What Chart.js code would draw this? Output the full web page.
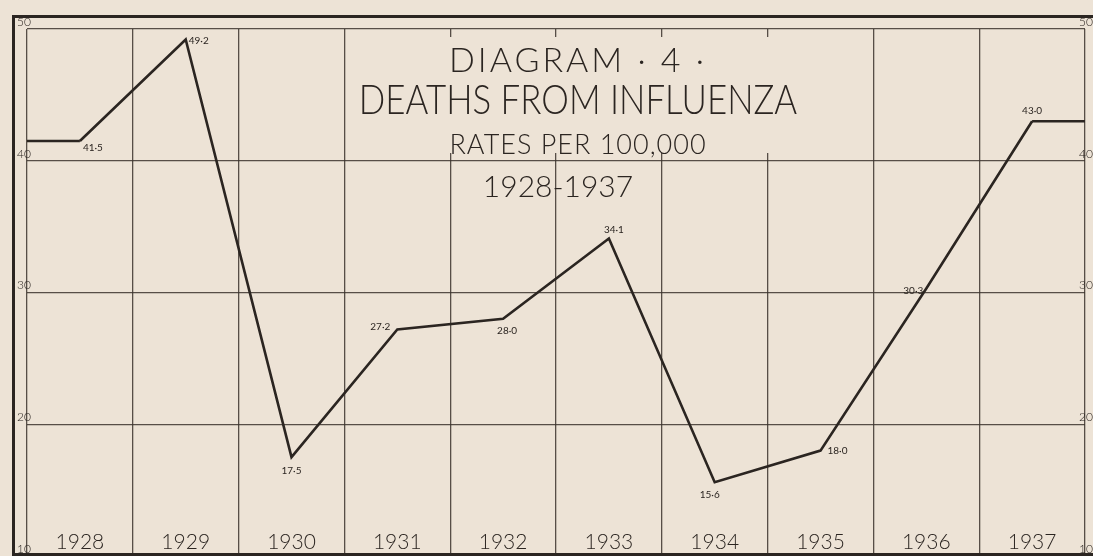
<!DOCTYPE html>
<html>
<head>
<meta charset="utf-8">
<script src="https://cdn.jsdelivr.net/npm/chart.js@4/dist/chart.umd.min.js"></script>
<style>
  html, body { margin: 0; padding: 0; background: #ede3d6; overflow: hidden; }
  #wrap { position: relative; width: 1093px; height: 556px; }
  #frame {
    position: absolute; left: 12px; top: 15px; width: 1100px; height: 535px;
    border: 3px solid #2b2521; border-right: none; pointer-events: none;
  }
  .ttl { position: absolute; left: 200px; width: 756px; text-align: center; color: #2b2521;
         font-family: Lato, "DejaVu Sans", sans-serif; font-weight: 300; white-space: nowrap; }
  #mask { position: absolute; left: 350px; top: 37px; width: 448px; height: 116px; background: #ede3d6; }
</style>
</head>
<body>
<div id="wrap">
  <canvas id="grafico" width="1093" height="556"></canvas>
  <div id="mask"></div>
  <div class="ttl" style="top:38px; font-size:34px; letter-spacing:3px;">DIAGRAM · 4 ·</div>
  <div class="ttl" style="top:73px; font-size:42px; transform:scaleX(0.83);">DEATHS FROM INFLUENZA</div>
  <div class="ttl" style="top:127px; font-size:27px; letter-spacing:1px;">RATES PER 100,000</div>
  <div class="ttl" style="top:167px; left:180px; font-size:30px;">1928-1937</div>
  <div id="frame"></div>
</div>
<script>
// dados do diagrama
const anos = ['1928', '1929', '1930', '1931', '1932', '1933', '1934', '1935', '1936', '1937'];
const taxas = [41.5, 49.2, 17.5, 27.2, 28.0, 34.1, 15.6, 18.0, 30.3, 43.0];
const rotulos = ['41·5', '49·2', '17·5', '27·2', '28·0', '34·1', '15·6', '18·0', '30·3', '43·0'];
const ticksY = [10, 20, 30, 40, 50];

// onde fica cada rotulo em volta do ponto [dx, dy, align]
const posRotulo = [
    [3, 7, 'left'], [3, 1, 'left'], [0, 14, 'center'], [-7, -3, 'right'], [4, 12, 'center'],
    [5, -9, 'center'], [-5, 13, 'center'], [7, 0, 'left'], [-3, 2, 'right'], [0, -10, 'center']
]

const tinta = '#2b2521'
const grade = 'rgba(60,52,46,0.85)'
const fonte = 'Lato, "DejaVu Sans", sans-serif'

const pontas = {
    id: 'pontas',
    afterDatasetsDraw(chart) {
        const pts = chart.getDatasetMeta(0).data
        const area = chart.chartArea
        const ctx = chart.ctx
        ctx.save()
        ctx.strokeStyle = tinta
        ctx.lineWidth = 2.6
        ctx.beginPath()
        ctx.moveTo(area.left, pts[0].y)
        ctx.lineTo(pts[0].x, pts[0].y)
        ctx.moveTo(pts[pts.length - 1].x, pts[pts.length - 1].y)
        ctx.lineTo(area.right, pts[pts.length - 1].y)
        ctx.stroke()

        ctx.fillStyle = tinta
        ctx.font = '10px ' + fonte
        ctx.textBaseline = 'middle'
        for (let i = 0; i < pts.length; i++) {
            const p = posRotulo[i]
            ctx.textAlign = p[2]
            ctx.fillText(rotulos[i], pts[i].x + p[0], pts[i].y + p[1])
        }
        ctx.restore()
    }
}

const semPadding = s => { s.paddingTop = 0; s.paddingBottom = 0 }

const ctx = document.getElementById('grafico')
new Chart(ctx, {
    type: 'line',
    data: {
        labels: anos,
        datasets: [{
            data: taxas,
            borderColor: tinta,
            borderWidth: 2.6,
            pointRadius: 0,
            tension: 0,
            fill: false
        }]
    },
    options: {
        responsive: false,
        animation: false,
        layout: { padding: { top: 29, left: 0, right: 0, bottom: 0 } },
        plugins: { legend: { display: false }, tooltip: { enabled: false } },
        scales: {
            x: {
                offset: true,
                grid: { offset: true, color: grade, lineWidth: 1.3, drawTicks: false },
                border: { display: false },
                ticks: { padding: -26, autoSkip: false, maxRotation: 0, color: tinta, font: { family: fonte, size: 21, weight: '300' } },
                afterFit: s => { s.paddingLeft = 0; s.paddingRight = 0 }
            },
            y: {
                position: 'left',
                min: 10,
                max: 50,
                afterBuildTicks: s => { s.ticks = ticksY.map(v => ({ value: v })) },
                grid: { color: grade, lineWidth: 1.3, drawTicks: false },
                border: { display: false },
                ticks: { mirror: true, padding: -10, labelOffset: -7, color: tinta, font: { family: fonte, size: 12, weight: '300' } },
                afterFit: s => { s.width = 27; semPadding(s) }
            },
            y2: {
                position: 'right',
                min: 10,
                max: 50,
                afterBuildTicks: s => { s.ticks = ticksY.map(v => ({ value: v })) },
                grid: { display: false, drawTicks: false },
                border: { display: false },
                ticks: { mirror: true, padding: 8, labelOffset: -7, color: tinta, font: { family: fonte, size: 12, weight: '300' } },
                afterFit: s => { s.width = 8; semPadding(s) }
            }
        }
    },
    plugins: [pontas]
})
</script>
</body>
</html>
